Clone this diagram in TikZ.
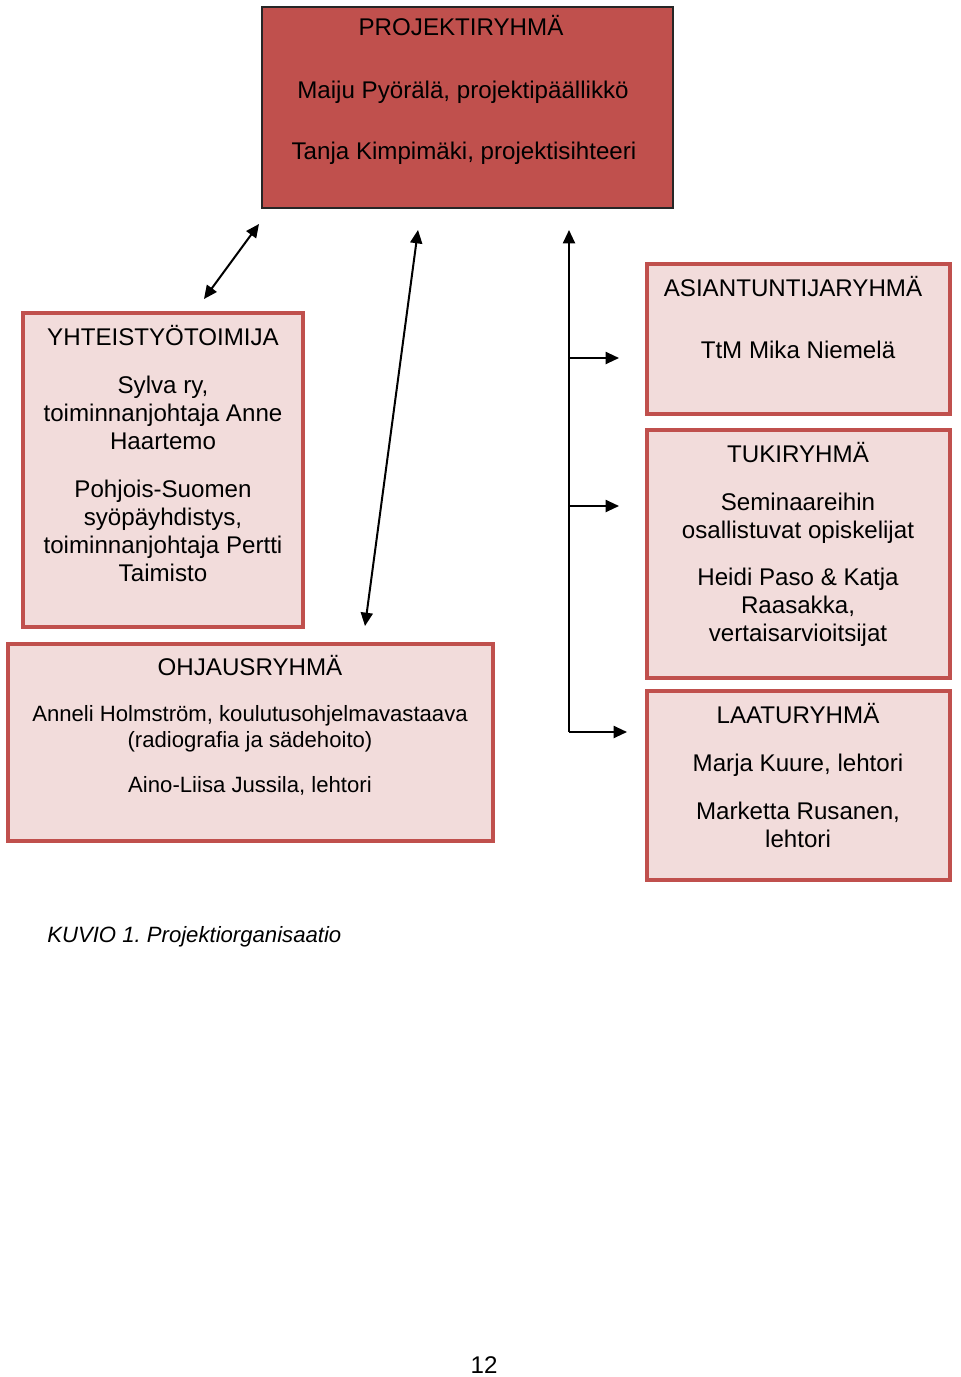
\documentclass[tikz,border=0pt]{standalone}
\usepackage{fontspec}
\setmainfont{Liberation Sans}
\usetikzlibrary{arrows.meta}
\definecolor{darkred}{HTML}{C0504D}
\definecolor{lightpink}{HTML}{F2DCDB}
\frenchspacing
\begin{document}
\begin{tikzpicture}[x=0.75pt,y=-0.75pt,
  darkbox/.style={draw=black!85,line width=1.2pt,fill=darkred,inner sep=0pt},
  lightbox/.style={draw=darkred,line width=2.6pt,fill=lightpink,inner sep=0pt},
  txt/.style={anchor=base,inner sep=0pt,font=\fontsize{18.1}{21}\selectfont},
  stxt/.style={anchor=base,inner sep=0pt,font=\fontsize{16.6}{20}\selectfont},
  arr/.style={line width=1.5pt,-{Triangle[length=10pt,width=9pt]}},
  darr/.style={line width=1.5pt,{Triangle[length=10pt,width=9pt]}-{Triangle[length=10pt,width=9pt]}},
  ln/.style={line width=1.5pt}]
\useasboundingbox[fill=white] (0,0) rectangle (960,1377);
% boxes
\path (262,7) rectangle node[darkbox,minimum width=411*0.75pt,minimum height=201*0.75pt] (proj) {} (673,208);
\path (23,313) rectangle node[lightbox,minimum width=280*0.75pt,minimum height=314*0.75pt] (yht) {} (303,627);
\path (8,644) rectangle node[lightbox,minimum width=485*0.75pt,minimum height=197*0.75pt] (ohj) {} (493,841);
\path (647,264) rectangle node[lightbox,minimum width=303*0.75pt,minimum height=150*0.75pt] (asi) {} (950,414);
\path (647,430) rectangle node[lightbox,minimum width=303*0.75pt,minimum height=248*0.75pt] (tuk) {} (950,678);
\path (647,691) rectangle node[lightbox,minimum width=303*0.75pt,minimum height=189*0.75pt] (laa) {} (950,880);
% texts: projektiryhma
\node[txt] (p1) at (461,36) {PROJEKTIRYHMÄ};
\node[txt] (p2) at (463,99) {Maiju Pyörälä, projektipäällikkö};
\node[txt] (p3) at (464,160) {Tanja Kimpimäki, projektisihteeri};
% yhteistyotoimija
\node[txt] (y1) at (163,345) {YHTEISTYÖTOIMIJA};
\node[txt] (y2) at (163,393) {Sylva ry,};
\node[txt] (y3) at (163,421) {toiminnanjohtaja Anne};
\node[txt] (y4) at (163,449) {Haartemo};
\node[txt] (y5) at (163,497) {Pohjois-Suomen};
\node[txt] (y6) at (163,525) {syöpäyhdistys,};
\node[txt] (y7) at (163,553) {toiminnanjohtaja Pertti};
\node[txt] (y8) at (163,581) {Taimisto};
% ohjausryhma
\node[txt] (o1) at (250,675) {OHJAUSRYHMÄ};
\node[stxt] (o2) at (250,721) {Anneli Holmström, koulutusohjelmavastaava};
\node[stxt] (o3) at (250,747) {(radiografia ja sädehoito)};
\node[stxt] (o4) at (250,792) {Aino-Liisa Jussila, lehtori};
% asiantuntijaryhma
\node[txt] (a1) at (793,296) {ASIANTUNTIJARYHMÄ};
\node[txt] (a2) at (798,358) {TtM Mika Niemelä};
% tukiryhma
\node[txt] (t1) at (798,462) {TUKIRYHMÄ};
\node[txt] (t2) at (798,510) {Seminaareihin};
\node[txt] (t3) at (798,538) {osallistuvat opiskelijat};
\node[txt] (t4) at (798,585) {Heidi Paso \& Katja};
\node[txt] (t5) at (798,613) {Raasakka,};
\node[txt] (t6) at (798,641) {vertaisarvioitsijat};
% laaturyhma
\node[txt] (l1) at (798,723) {LAATURYHMÄ};
\node[txt] (l2) at (798,771) {Marja Kuure, lehtori};
\node[txt] (l3) at (798,819) {Marketta Rusanen,};
\node[txt] (l4) at (798,847) {lehtori};
% caption and page number
\node[stxt,anchor=base west] (cap) at (47,942) {\itshape KUVIO 1. Projektiorganisaatio};
\node[txt] (pg) at (484,1373) {12};
% connectors
\coordinate (d1a) at (204,299);
\coordinate (d1b) at (259,224);
\draw[darr] (d1a) -- (d1b);
\coordinate (d2a) at (365,626);
\coordinate (d2b) at (418,230);
\draw[darr] (d2a) -- (d2b);
\coordinate (vb) at (569,732);
\coordinate (vt) at (569,230);
\coordinate (b1) at (569,358);
\coordinate (b2) at (569,506);
\coordinate (e1) at (619,358);
\coordinate (e2) at (619,506);
\coordinate (e3) at (627,732);
\draw[arr] (vb) -- (vt);
\draw[arr] (b1) -- (e1);
\draw[arr] (b2) -- (e2);
\draw[arr,line join=miter] (vt |- vb) -- (e3);
\end{tikzpicture}
\end{document}
